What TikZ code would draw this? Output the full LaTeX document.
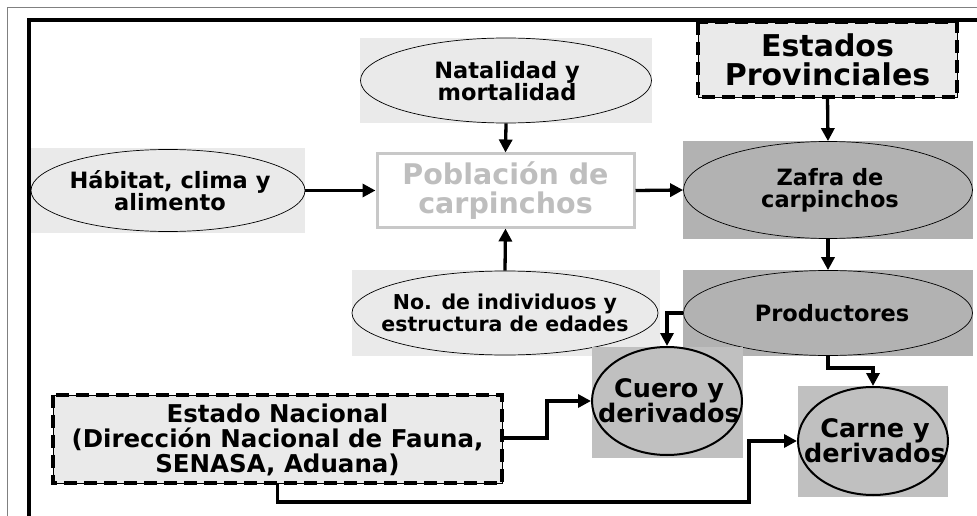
\documentclass[tikz,border=0pt]{standalone}
\usepackage{fontspec}
\setmainfont{DejaVu Sans}
\usetikzlibrary{shapes.geometric,arrows.meta}
\definecolor{lightbg}{HTML}{EAEAEA}
\definecolor{darkbg}{HTML}{B2B2B2}
\definecolor{midbg}{HTML}{C0C0C0}
\definecolor{pobline}{HTML}{C8C8C8}
\definecolor{pobtext}{HTML}{BEBEBE}
\tikzset{
  ell/.style={ellipse, draw=black, line width=0.7pt, inner sep=0pt},
  bgbox/.style={rectangle, inner sep=0pt, draw=none},
  txt/.style={align=center, inner sep=0pt, font=\bfseries\fontsize{22.5}{22}\selectfont},
  bigtxt/.style={align=center, inner sep=0pt, font=\bfseries\fontsize{24.5}{25}\selectfont},
  arr/.style={line width=3.3pt, -{Triangle[length=13pt,width=13pt]}},
  dashline/.style={line width=3.8pt, dash pattern=on 13pt off 7pt},
}
\begin{document}
\begin{tikzpicture}[x=1pt,y=-1pt]
\useasboundingbox (0,0) rectangle (977,516);
\fill[white] (0,0) rectangle (977,516);
% frame
\draw[gray, line width=1pt] (7,516) -- (7,8) -- (977,8);
\draw[black, line width=3.5pt] (29,516) -- (29,20) -- (977,20);

% Natalidad
\node[bgbox, fill=lightbg, minimum width=292pt, minimum height=85pt] (natbg) at (506,80.5) {};
\node[ell, fill=lightbg, minimum width=291pt, minimum height=85pt] (nat) at (506,80.5) {};
\node[txt] (natt) at (507,81) {Natalidad y\\mortalidad};

% Habitat
\node[bgbox, fill=lightbg, minimum width=274pt, minimum height=85pt] (habbg) at (168,190.5) {};
\node[ell, fill=lightbg, minimum width=274pt, minimum height=82pt] (hab) at (168,190.5) {};
\node[txt] (habt) at (170,191) {Hábitat, clima y\\alimento};

% Poblacion
\node[rectangle, draw=pobline, line width=3pt, fill=white, minimum width=257pt, minimum height=73pt] (pob) at (505.5,190.5) {};
\node[align=center, inner sep=0pt, text=pobtext, font=\bfseries\fontsize{28.5}{29}\selectfont] (pobt) at (505.5,191) {Población de\\carpinchos};

% Estados Provinciales
\node[rectangle, draw=black, line width=0.7pt, fill=lightbg, minimum width=259pt, minimum height=75pt] (est) at (827.5,59.5) {};
\draw[dashline] (est.north west) rectangle (est.south east);
\node[align=center, inner sep=0pt, font=\bfseries\fontsize{30}{29}\selectfont] (estt) at (827.5,60) {Estados\\Provinciales};

% Zafra
\node[bgbox, fill=darkbg, minimum width=290pt, minimum height=98pt] (zafrabg) at (828,190) {};
\node[ell, fill=darkbg, minimum width=289pt, minimum height=97pt] (zafra) at (828,190) {};
\node[txt] (zafrat) at (830,190) {Zafra de\\carpinchos};

% Productores
\node[bgbox, fill=darkbg, minimum width=290pt, minimum height=86pt] (prodbg) at (828,313) {};
\node[ell, fill=darkbg, minimum width=289pt, minimum height=85pt] (prod) at (828,313) {};
\node[txt] (prodt) at (832,313) {Productores};

% No. de individuos
\node[bgbox, fill=lightbg, minimum width=308pt, minimum height=86pt] (noindbg) at (506,313) {};
\node[ell, fill=lightbg, minimum width=306pt, minimum height=84pt] (noind) at (505,313) {};
\node[align=center, inner sep=0pt, font=\bfseries\fontsize{20.5}{22}\selectfont] (noindt) at (505,313) {No. de individuos y\\estructura de edades};

% Cuero
\node[bgbox, fill=midbg, minimum width=151pt, minimum height=111pt] (cuerobg) at (667.5,402.5) {};
\node[ell, draw=black, line width=2pt, fill=midbg, minimum width=150pt, minimum height=108pt] (cuero) at (667,401) {};
\node[align=center, inner sep=0pt, font=\bfseries\fontsize{25.5}{25}\selectfont] (cuerot) at (669,401) {Cuero y\\derivados};

% Carne
\node[bgbox, fill=midbg, minimum width=150pt, minimum height=111pt] (carnebg) at (873,441.5) {};
\node[ell, draw=black, line width=2pt, fill=midbg, minimum width=150pt, minimum height=108pt] (carne) at (873,441) {};
\node[align=center, inner sep=0pt, font=\bfseries\fontsize{25.5}{25}\selectfont] (carnet) at (875,441) {Carne y\\derivados};

% Estado Nacional
\node[rectangle, draw=black, line width=0.7pt, fill=lightbg, minimum width=449pt, minimum height=88pt] (nac) at (277.5,439) {};
\draw[dashline] (nac.north west) rectangle (nac.south east);
\node[bigtxt] (nact) at (277.5,440) {Estado Nacional\\(Dirección Nacional de Fauna,\\SENASA, Aduana)};

% coordinates for connectors
\coordinate (k1) at (547,438);
\coordinate (k2) at (749,502);

% arrows
\draw[arr] (hab.east) -- (pob.west);
\draw[arr] (nat.south) -- (pob.north);
\draw[arr] (noind.north) -- (pob.south);
\draw[arr] (pob.east) -- (zafra.west);
\draw[arr] (est.south) -- (zafra.north);
\draw[arr] (zafra.south) -- (prod.north);
\draw[arr] (prod.west) -| (cuero.north);
\draw[arr] (prod.south) -- ++(0,12) -| (carne.north);
\draw[arr] (nac.east |- k1) -- (k1) |- (cuero.west);
\draw[arr] (nac.south) |- (k2) |- (carne.west);
\end{tikzpicture}
\end{document}
